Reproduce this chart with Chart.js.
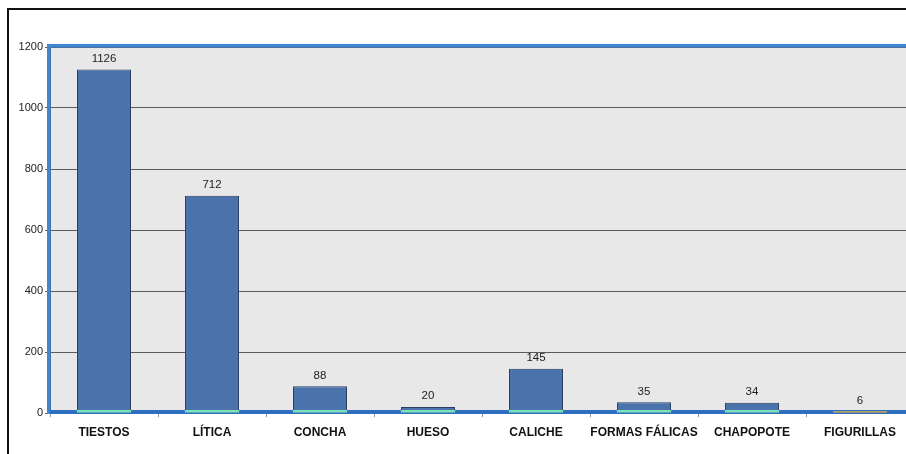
<!DOCTYPE html>
<html>
<head>
<meta charset="utf-8">
<script src="https://cdn.jsdelivr.net/npm/chart.js@4/dist/chart.umd.min.js"></script>
<style>
  html, body { margin: 0; padding: 0; background: #fff; overflow: hidden; width: 906px; height: 454px; }
  #frame { position: absolute; left: 7px; top: 8px; width: 1000px; height: 500px; border-top: 2px solid #111; border-left: 2px solid #111; }
  #wrap { position: absolute; left: 0; top: 0; width: 914px; height: 454px; }
</style>
</head>
<body>
<div id="frame"></div>
<div id="wrap"><canvas id="chart" width="914" height="454"></canvas></div>
<script>
// categories and counts
const categories = ['TIESTOS', 'LÍTICA', 'CONCHA', 'HUESO', 'CALICHE', 'FORMAS FÁLICAS', 'CHAPOPOTE', 'FIGURILLAS'];
const counts = [1126, 712, 88, 20, 145, 35, 34, 6];
// thin base strip shown at the foot of every bar
const baseStrip = [10, 10, 10, 10, 10, 10, 10, 6];
const yTicks = [0, 200, 400, 600, 800, 1000, 1200];

const stripColors = counts.map((v, i) => (i === counts.length - 1 ? '#e3b34a' : '#80e0b8'));

const plotFrame = {
  id: 'plotFrame',
  beforeDraw(chart) {
    const { ctx, chartArea: a } = chart;
    ctx.save();
    ctx.fillStyle = '#e8e8e8';
    ctx.fillRect(a.left, a.top, a.right - a.left, a.bottom - a.top);
    ctx.restore();
  },
  beforeDatasetsDraw(chart) {
    const { ctx, chartArea: a } = chart;
    ctx.save();
    // bottom blue axis line, sits under the bars
    ctx.fillStyle = '#2f6fc0';
    ctx.fillRect(a.left - 3, a.bottom - 3, a.right - a.left + 3, 4);
    ctx.restore();
  },
  afterDatasetsDraw(chart) {
    const { ctx, chartArea: a } = chart;
    ctx.save();
    // top blue border
    ctx.fillStyle = '#3b88d4';
    ctx.fillRect(a.left - 2, a.top - 3, a.right - a.left + 2, 3);
    ctx.fillStyle = '#50709a';
    ctx.fillRect(a.left - 2, a.top, a.right - a.left + 2, 1);
    // left blue border
    ctx.fillStyle = '#3b88d4';
    ctx.fillRect(a.left - 3, a.top - 3, 3, a.bottom - a.top + 4);
    ctx.fillStyle = '#50709a';
    ctx.fillRect(a.left, a.top, 1, a.bottom - a.top - 3);
    ctx.restore();

    // value labels above bars
    const meta = chart.getDatasetMeta(0);
    ctx.save();
    ctx.fillStyle = '#222';
    ctx.font = '11.5px "Liberation Sans", sans-serif';
    ctx.textAlign = 'center';
    ctx.textBaseline = 'bottom';
    meta.data.forEach((bar, i) => {
      ctx.fillText(String(counts[i]), bar.x, bar.y - 5);
    });
    ctx.restore();
  }
};

new Chart(document.getElementById('chart'), {
  type: 'bar',
  data: {
    labels: categories,
    datasets: [
      {
        data: counts,
        backgroundColor: '#4a72ab',
        borderColor: '#2b3f5e',
        borderWidth: 1,
        barPercentage: 0.5,
        categoryPercentage: 1,
        grouped: false,
        order: 2,
      },
      {
        data: baseStrip,
        backgroundColor: stripColors,
        borderWidth: 0,
        barPercentage: 0.5,
        categoryPercentage: 1,
        grouped: false,
        order: 1,
      },
    ],
  },
  options: {
    responsive: false,
    animation: false,
    layout: { padding: { left: 0, top: 47, right: 0, bottom: 0 } },
    plugins: { legend: { display: false }, tooltip: { enabled: false } },
    scales: {
      x: {
        grid: { display: true, offset: true, drawOnChartArea: false, drawTicks: true, tickLength: 4, color: '#9a9a9a' },
        border: { display: false },
        ticks: {
          color: '#111',
          padding: 8,
          maxRotation: 0,
          autoSkip: false,
          font: { family: '"Liberation Sans", sans-serif', size: 12, weight: 'bold' },
        },
        afterFit(scale) { scale.height = 41; },
      },
      y: {
        min: 0,
        max: 1200,
        afterBuildTicks(scale) { scale.ticks = yTicks.map((v) => ({ value: v })); },
        grid: { color: '#5a5a5a', lineWidth: 1, tickLength: 5, drawTicks: true },
        border: { display: false },
        ticks: {
          color: '#222',
          padding: 2,
          callback: (v) => String(v),
          font: { family: '"Liberation Sans", sans-serif', size: 11 },
        },
        afterFit(scale) { scale.width = 50; },
      },
    },
  },
  plugins: [plotFrame],
});
</script>
</body>
</html>
